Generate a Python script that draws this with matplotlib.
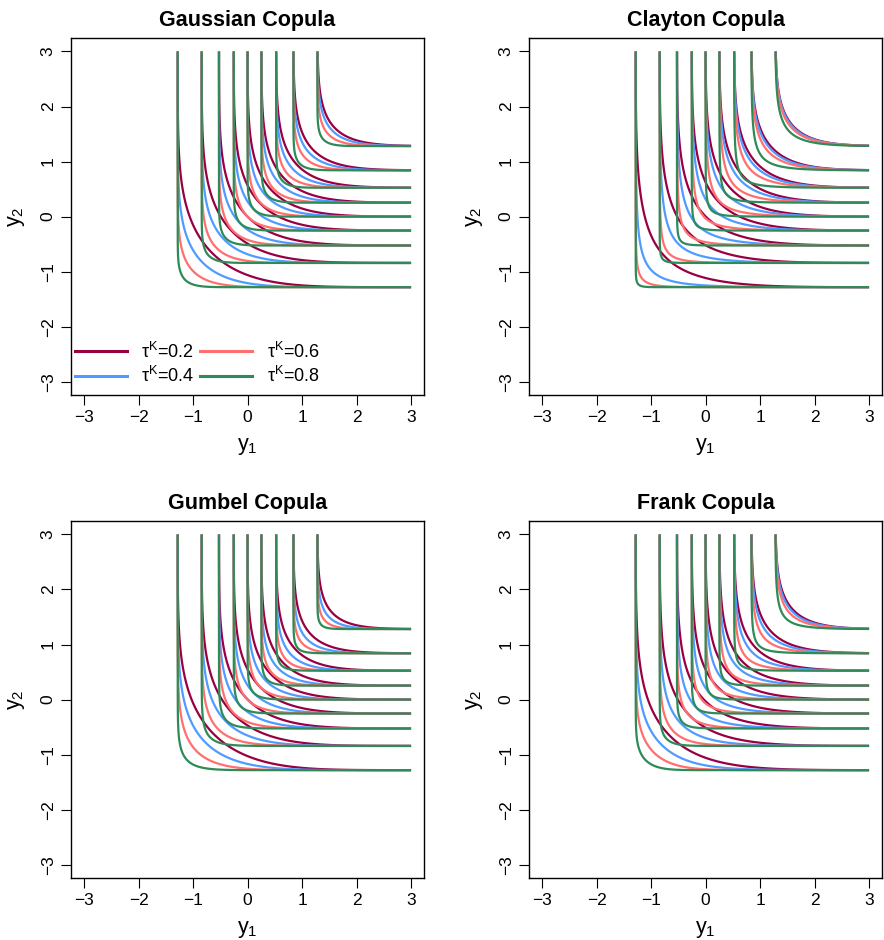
import math
import numpy as np
import matplotlib
matplotlib.use('Agg')
import matplotlib.pyplot as plt
from matplotlib.lines import Line2D

plt.rcParams['font.family'] = ['Liberation Sans', 'DejaVu Sans']
plt.rcParams['mathtext.fontset'] = 'custom'
plt.rcParams['mathtext.rm'] = 'Liberation Sans'
plt.rcParams['mathtext.it'] = 'Liberation Sans'

# data: copula families, Kendall's tau values, CDF levels
copulas = ['Gaussian', 'Clayton', 'Gumbel', 'Frank']
taus = [0.2, 0.4, 0.6, 0.8]
levels = [0.1, 0.2, 0.3, 0.4, 0.5, 0.6, 0.7, 0.8, 0.9]
colors = ['#990042', '#4F9BFF', '#FF6F6F', '#2E8B57']
ticks = [-3, -2, -1, 0, 1, 2, 3]


def erf(x):
    # Abramowitz-Stegun 7.1.26
    s = np.sign(x)
    x = np.abs(x)
    t = 1.0 / (1.0 + 0.3275911 * x)
    y = 1 - (((((1.061405429 * t - 1.453152027) * t) + 1.421413741) * t
              - 0.284496736) * t + 0.254829592) * t * np.exp(-x * x)
    return s * y


def pnorm(z):
    return 0.5 * (1 + erf(z / math.sqrt(2)))


def frank_theta(tau):
    def tau_of(th):
        t = np.linspace(1e-9, th, 4000)
        d1 = np.trapezoid(t / np.expm1(t), t) / th
        return 1 - 4 / th * (1 - d1)
    lo, hi = 1e-3, 100.0
    for _ in range(80):
        mid = 0.5 * (lo + hi)
        if tau_of(mid) < tau:
            lo = mid
        else:
            hi = mid
    return 0.5 * (lo + hi)


# grid on the normal scale
s = np.linspace(-8, 3, 2201)
keep = s >= -1.6 - 1e-9
g = s[keep]
U = pnorm(g)
u = U[None, :]
v = U[:, None]


def copula_cdf(name, tau):
    if name == 'Gaussian':
        rho = math.sin(math.pi * tau / 2)
        sig = math.sqrt(1 - rho ** 2)
        phi = np.exp(-s ** 2 / 2) / math.sqrt(2 * math.pi)
        f = phi[:, None] * pnorm((g[None, :] - rho * s[:, None]) / sig)
        h = s[1] - s[0]
        cum = np.concatenate([np.zeros((1, len(g))),
                              np.cumsum(0.5 * (f[1:] + f[:-1]) * h, axis=0)])
        C = cum[keep]          # rows: y1, cols: y2
        return C.T
    if name == 'Clayton':
        th = 2 * tau / (1 - tau)
        return (u ** -th + v ** -th - 1) ** (-1 / th)
    if name == 'Gumbel':
        th = 1 / (1 - tau)
        return np.exp(-((-np.log(u)) ** th + (-np.log(v)) ** th) ** (1 / th))
    th = frank_theta(tau)
    return -1 / th * np.log1p(np.expm1(-th * u) * np.expm1(-th * v) / np.expm1(-th))


fig = plt.figure(figsize=(8.84, 9.40), dpi=100)
boxes = [(0.0803, 0.5798), (0.5984, 0.5798), (0.0803, 0.0660), (0.5984, 0.0660)]

for k, name in enumerate(copulas):
    ax = fig.add_axes([boxes[k][0], boxes[k][1], 0.3995, 0.3795])
    for tau, col in zip(taus, colors):
        Z = copula_cdf(name, tau)
        ax.contour(g, g, Z, levels=levels, colors=col, linewidths=1.6)
    ax.set_xlim(-3.24, 3.24)
    ax.set_ylim(-3.24, 3.24)
    ax.set_xticks(ticks)
    ax.set_yticks(ticks)
    ax.tick_params(direction='out', length=7, width=0.8, labelsize=12.5, pad=4)
    for lab in ax.get_yticklabels():
        lab.set_rotation(90)
        lab.set_va('center')
    for sp in ax.spines.values():
        sp.set_linewidth(1.0)
    ax.set_title(name + ' Copula', fontsize=15.5, fontweight='bold', pad=9)
    ax.set_xlabel('y$_1$', fontsize=15.5, labelpad=8)
    ax.set_ylabel('y$_2$', fontsize=15.5, labelpad=10)
    if k == 0:
        handles = [Line2D([], [], color=c, lw=2.2) for c in colors]
        labels = ['τ$^{\\mathrm{K}}$=%.1f' % t for t in taus]
        ax.legend(handles, labels, ncol=2, loc='upper left',
                  bbox_to_anchor=(0.0, 0.160), frameon=False, fontsize=13,
                  handlelength=2.9, handletextpad=0.8, columnspacing=0.3,
                  labelspacing=0.25, borderpad=0.2, borderaxespad=0)

fig.savefig('out.png', dpi=100)
